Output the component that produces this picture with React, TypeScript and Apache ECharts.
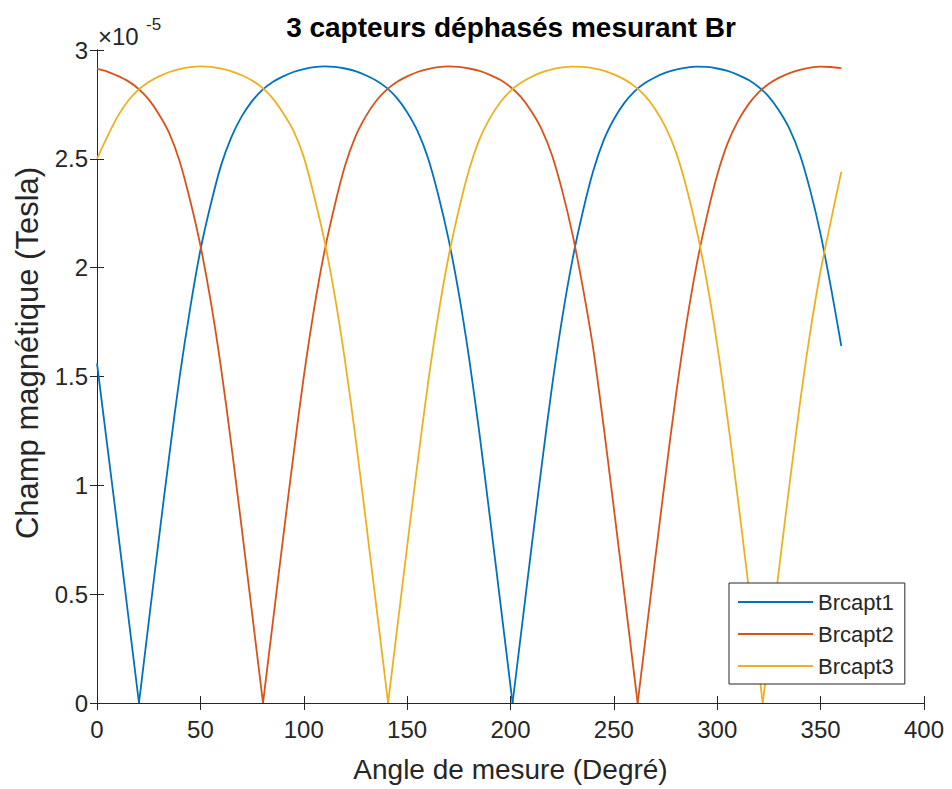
import React, { useEffect, useRef } from "react";
import * as echarts from "echarts";

const FONT = '"Liberation Sans", Arial, Helvetica, sans-serif';

const angles = [
  0, 5, 10, 15, 20, 25, 30, 35, 40, 45, 50, 55, 60, 65, 70, 75, 80, 85, 90, 95,
  100, 105, 110, 115, 120, 125, 130, 135, 140, 145, 150, 155, 160, 165, 170, 175,
  180, 185, 190, 195, 200, 205, 210, 215, 220, 225, 230, 235, 240, 245, 250, 255,
  260, 265, 270, 275, 280, 285, 290, 295, 300, 305, 310, 315, 320, 325, 330, 335,
  340, 345, 350, 355, 360,
];

// values in units of 1e-5 Tesla
const brcapt1 = [
  1.56, 1.18, 0.8, 0.41, 0.02, 0.37, 0.76, 1.14, 1.5, 1.81, 2.08, 2.29, 2.47, 2.6, 2.695, 2.765, 2.817, 2.853, 2.879, 2.899, 2.912, 2.921, 2.925,
  2.922, 2.915, 2.903, 2.884, 2.86, 2.827, 2.78, 2.714, 2.628, 2.506, 2.336, 2.132, 1.882, 1.582, 1.236, 0.856, 0.468, 0.078,
  0.312, 0.702, 1.084, 1.448, 1.768, 2.038, 2.258, 2.444, 2.584, 2.682, 2.756, 2.81, 2.848, 2.875, 2.896, 2.91, 2.919, 2.924,
  2.922, 2.915, 2.904, 2.886, 2.863, 2.83, 2.785, 2.72, 2.637, 2.519, 2.354, 2.153, 1.908, 1.64,
];
const brcapt2 = [
  2.913, 2.901, 2.881, 2.857, 2.822, 2.773, 2.704, 2.617, 2.488, 2.311, 2.103, 1.846, 1.539, 1.183, 0.803, 0.413, 0.02,
  0.367, 0.757, 1.137, 1.498, 1.811, 2.074, 2.287, 2.469, 2.602, 2.695, 2.766, 2.817, 2.853, 2.879, 2.899, 2.912, 2.921, 2.925,
  2.922, 2.915, 2.904, 2.886, 2.863, 2.83, 2.785, 2.72, 2.637, 2.519, 2.354, 2.153, 1.908, 1.628, 1.274, 0.894, 0.507, 0.117,
  0.273, 0.663, 1.046, 1.412, 1.737, 2.012, 2.237, 2.426, 2.571, 2.673, 2.749, 2.805, 2.845, 2.873, 2.894, 2.909, 2.919, 2.924, 2.922, 2.917,
];
const brcapt3 = [
  2.5, 2.602, 2.695, 2.766, 2.817, 2.853, 2.879, 2.899, 2.912, 2.921, 2.925,
  2.922, 2.914, 2.902, 2.884, 2.86, 2.826, 2.778, 2.711, 2.63, 2.509, 2.329, 2.124, 1.872, 1.57, 1.221, 0.841, 0.452, 0.06,
  0.328, 0.718, 1.099, 1.462, 1.78, 2.048, 2.266, 2.451, 2.589, 2.686, 2.759, 2.812, 2.849, 2.876, 2.897, 2.911, 2.92, 2.924,
  2.922, 2.916, 2.905, 2.888, 2.865, 2.834, 2.79, 2.728, 2.646, 2.532, 2.372, 2.174, 1.934, 1.644, 1.304, 0.936, 0.546, 0.156,
  0.234, 0.624, 1.008, 1.376, 1.706, 1.986, 2.216, 2.44,
];

// angles where each curve touches zero
const zeros1 = [20.3, 201];
const zeros2 = [80.3, 261.5];
const zeros3 = [140.8, 322];

const seriesNames = ["Brcapt1", "Brcapt2", "Brcapt3"];
const seriesColors = ["#0072BD", "#D95319", "#EDB120"];
const xTicks = [0, 400, 50];
const yTicks = [0, 3, 0.5];

// split a curve into arches between its zero crossings
function buildArches(vals: number[], zs: number[]) {
  const pts: number[][] = [];
  angles.forEach((a, i) => {
    if (zs.some((z) => Math.abs(z - a) < 1)) return;
    pts.push([a, vals[i]]);
  });
  zs.forEach((z) => pts.push([z, 0]));
  pts.sort((p, q) => p[0] - q[0]);
  const arches: number[][][] = [];
  let cur: number[][] = [];
  pts.forEach((p) => {
    cur.push(p);
    if (p[1] === 0) {
      arches.push(cur);
      cur = [p];
    }
  });
  if (cur.length > 1) arches.push(cur);
  return arches;
}

export default function App() {
  const ref = useRef<HTMLDivElement>(null);
  useEffect(() => {
    if (!ref.current) return;
    const chart = echarts.init(ref.current, undefined, { renderer: "svg" });
    const axisColor = "#262626";
    const baseAxis = {
      type: "value" as const,
      axisLine: { show: true, lineStyle: { color: axisColor, width: 1 } },
      axisTick: { show: true, inside: true, length: 7, lineStyle: { color: axisColor } },
      splitLine: { show: false },
    };
    const allVals = [brcapt1, brcapt2, brcapt3];
    const allZeros = [zeros1, zeros2, zeros3];
    const series: any[] = [];
    seriesNames.forEach((name, i) => {
      buildArches(allVals[i], allZeros[i]).forEach((arch) => {
        series.push({
          name,
          type: "line",
          data: arch,
          showSymbol: false,
          symbol: "none",
          smooth: 0.3,
          color: seriesColors[i],
          lineStyle: { color: seriesColors[i], width: 1.8 },
          z: 2,
        });
      });
    });
    chart.setOption({
      animation: false,
      backgroundColor: "#ffffff",
      grid: { left: 97, top: 50, width: 827, height: 653, containLabel: false },
      xAxis: [
        {
          ...baseAxis,
          min: xTicks[0],
          max: xTicks[1],
          interval: xTicks[2],
          position: "bottom",
          name: "Angle de mesure (Degré)",
          nameLocation: "middle",
          nameGap: 52,
          nameTextStyle: { fontSize: 28, color: axisColor, fontFamily: FONT },
          axisLabel: { show: true, fontSize: 24, color: axisColor, fontFamily: FONT, margin: 14 },
        },
        {
          ...baseAxis,
          min: xTicks[0],
          max: xTicks[1],
          interval: xTicks[2],
          position: "top",
          axisLabel: { show: false },
        },
      ],
      yAxis: [
        {
          ...baseAxis,
          min: yTicks[0],
          max: yTicks[1],
          interval: yTicks[2],
          position: "left",
          axisLabel: {
            show: true,
            fontSize: 24,
            color: axisColor,
            fontFamily: FONT,
            margin: 9,
            formatter: (v: number) => String(v),
          },
        },
        {
          ...baseAxis,
          min: yTicks[0],
          max: yTicks[1],
          interval: yTicks[2],
          position: "right",
          axisLabel: { show: false },
        },
      ],
      legend: {
        orient: "vertical",
        left: 729,
        top: 583,
        icon: "rect",
        itemWidth: 75,
        itemHeight: 2,
        itemGap: 10,
        padding: [8, 11, 7, 9],
        backgroundColor: "#ffffff",
        borderColor: axisColor,
        borderWidth: 1,
        textStyle: { fontSize: 22, color: axisColor, fontFamily: FONT },
        data: seriesNames.map((n, i) => ({ name: n, itemStyle: { color: seriesColors[i] } })),
      },
      series,
      graphic: [
        {
          type: "text",
          x: 511,
          y: 27,
          style: {
            text: "3 capteurs déphasés mesurant Br",
            font: `bold 28px ${FONT}`,
            fill: "#000000",
            textAlign: "center",
            textVerticalAlign: "middle",
          },
        },
        {
          type: "text",
          x: 27,
          y: 353,
          rotation: Math.PI / 2,
          style: {
            text: "Champ magnétique (Tesla)",
            font: `31px ${FONT}`,
            fill: axisColor,
            textAlign: "center",
            textVerticalAlign: "middle",
          },
        },
        {
          type: "text",
          x: 98,
          y: 36,
          style: {
            text: "×10",
            font: `24px ${FONT}`,
            fill: axisColor,
            textAlign: "left",
            textVerticalAlign: "middle",
          },
        },
        {
          type: "text",
          x: 146,
          y: 24,
          style: {
            text: "-5",
            font: `17px ${FONT}`,
            fill: axisColor,
            textAlign: "left",
            textVerticalAlign: "middle",
          },
        },
      ],
    });
    return () => chart.dispose();
  }, []);
  return (
    <div
      ref={ref}
      style={{ position: "fixed", left: 0, top: 0, width: 952, height: 789, background: "#fff" }}
    />
  );
}
